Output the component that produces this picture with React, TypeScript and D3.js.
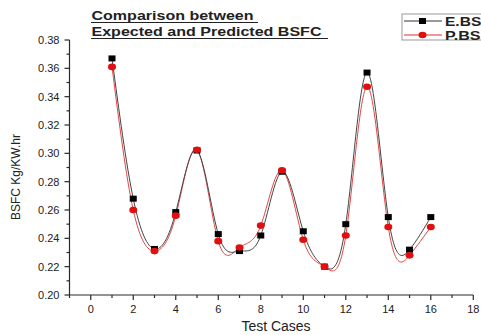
import React from "react";
import * as d3 from "d3";

const testCases = [1, 2, 3, 4, 5, 6, 7, 8, 9, 10, 11, 12, 13, 14, 15, 16];
const expectedBsfc = [0.367, 0.268, 0.2325, 0.2585, 0.302, 0.243, 0.231, 0.242, 0.287, 0.245, 0.22, 0.25, 0.357, 0.255, 0.232, 0.255];
const predictedBsfc = [0.361, 0.26, 0.231, 0.256, 0.3025, 0.238, 0.2335, 0.249, 0.288, 0.239, 0.22, 0.242, 0.347, 0.248, 0.228, 0.248];
const xTicks = [0, 2, 4, 6, 8, 10, 12, 14, 16, 18];
const yTicks = [0.2, 0.22, 0.24, 0.26, 0.28, 0.3, 0.32, 0.34, 0.36, 0.38];
const seriesNames = ["E.BSFC", "P.BSFC"];

const W = 481,
  H = 335;

function App() {
  const x = d3.scaleLinear().domain([-1, 18]).range([69.5, 473.3]);
  const y = d3.scaleLinear().domain([0.2, 0.38]).range([295, 40]);

  const xMinor = d3.range(-1, 18, 1).filter(v => v % 2 !== 0);
  const yMinor = d3.range(0, 9).map(i => 0.21 + i * 0.02);

  const line = d3
    .line<number>()
    .x((d, i) => x(testCases[i]))
    .y(d => y(d))
    .curve(d3.curveNatural);

  const axisColor = "#2a2a2a";
  const font = "Arial, 'Liberation Sans', sans-serif";

  return (
    <svg
      width={W}
      height={H}
      style={{ position: "absolute", left: 0, top: 0, background: "#fff" }}
      fontFamily={font}
    >
      {/* title */}
      <g fontWeight="bold" fontSize={12} fill="#222">
        <text x={91.5} y={20} textLength={162} lengthAdjust="spacingAndGlyphs">
          Comparison between
        </text>
        <line x1={91} x2={258} y1={22.5} y2={22.5} stroke="#222" strokeWidth={1.1} />
        <text x={91.5} y={36} textLength={230} lengthAdjust="spacingAndGlyphs">
          Expected and Predicted BSFC
        </text>
        <line x1={91} x2={328} y1={38.5} y2={38.5} stroke="#222" strokeWidth={1.1} />
      </g>

      {/* legend */}
      <g>
        <rect x={402} y={14} width={100} height={26} fill="#fff" stroke="#999" strokeWidth={1} />
        <line x1={404} x2={442} y1={21} y2={21} stroke="#333" strokeWidth={1} />
        <rect x={419} y={18} width={7} height={6} fill="#000" />
        <line x1={404} x2={442} y1={35} y2={35} stroke="#e03030" strokeWidth={1} />
        <ellipse cx={422.5} cy={35} rx={4} ry={3.3} fill="#e01010" />
        <text x={445} y={25.5} fontSize={12} fontWeight="bold" fill="#222" textLength={57} lengthAdjust="spacingAndGlyphs">
          {seriesNames[0]}
        </text>
        <text x={445} y={39.5} fontSize={12} fontWeight="bold" fill="#222" textLength={57} lengthAdjust="spacingAndGlyphs">
          {seriesNames[1]}
        </text>
      </g>

      {/* axes */}
      <g stroke={axisColor} strokeWidth={1.2}>
        <line x1={x(-1)} x2={x(-1)} y1={y(0.38)} y2={y(0.2)} />
        <line x1={x(-1)} x2={x(18)} y1={y(0.2)} y2={y(0.2)} />
        {yTicks.map(t => (
          <line key={"ym" + t} x1={x(-1) - 5} x2={x(-1)} y1={y(t)} y2={y(t)} />
        ))}
        {yMinor.map(t => (
          <line key={"yn" + t} x1={x(-1) - 3} x2={x(-1)} y1={y(t)} y2={y(t)} />
        ))}
        {xTicks.map(t => (
          <line key={"xm" + t} x1={x(t)} x2={x(t)} y1={y(0.2)} y2={y(0.2) + 5} />
        ))}
        {xMinor.map(t => (
          <line key={"xn" + t} x1={x(t)} x2={x(t)} y1={y(0.2)} y2={y(0.2) + 3} />
        ))}
      </g>
      <g fontSize={11} fill="#222">
        {yTicks.map(t => (
          <text key={"yl" + t} x={x(-1) - 10} y={y(t) + 4} textAnchor="end">
            {d3.format(".2f")(t)}
          </text>
        ))}
        {xTicks.map(t => (
          <text key={"xl" + t} x={x(t)} y={313} textAnchor="middle">
            {t}
          </text>
        ))}
      </g>
      <text x={276} y={331} textAnchor="middle" fontSize={14} fill="#222">
        Test Cases
      </text>
      <text
        transform={`translate(20,177) rotate(-90)`}
        textAnchor="middle"
        fontSize={12}
        fill="#222"
      >
        BSFC Kg/KW.hr
      </text>

      {/* lines */}
      <path d={line(predictedBsfc) || ""} fill="none" stroke="#e04848" strokeWidth={1} />
      <path d={line(expectedBsfc) || ""} fill="none" stroke="#444" strokeWidth={1} />

      {/* markers */}
      {expectedBsfc.map((v, i) => (
        <rect key={"e" + i} x={x(testCases[i]) - 3.5} y={y(v) - 3} width={7} height={6} fill="#000" />
      ))}
      {predictedBsfc.map((v, i) => (
        <ellipse key={"p" + i} cx={x(testCases[i])} cy={y(v)} rx={4} ry={3.3} fill="#e01010" />
      ))}
    </svg>
  );
}

export default App;
